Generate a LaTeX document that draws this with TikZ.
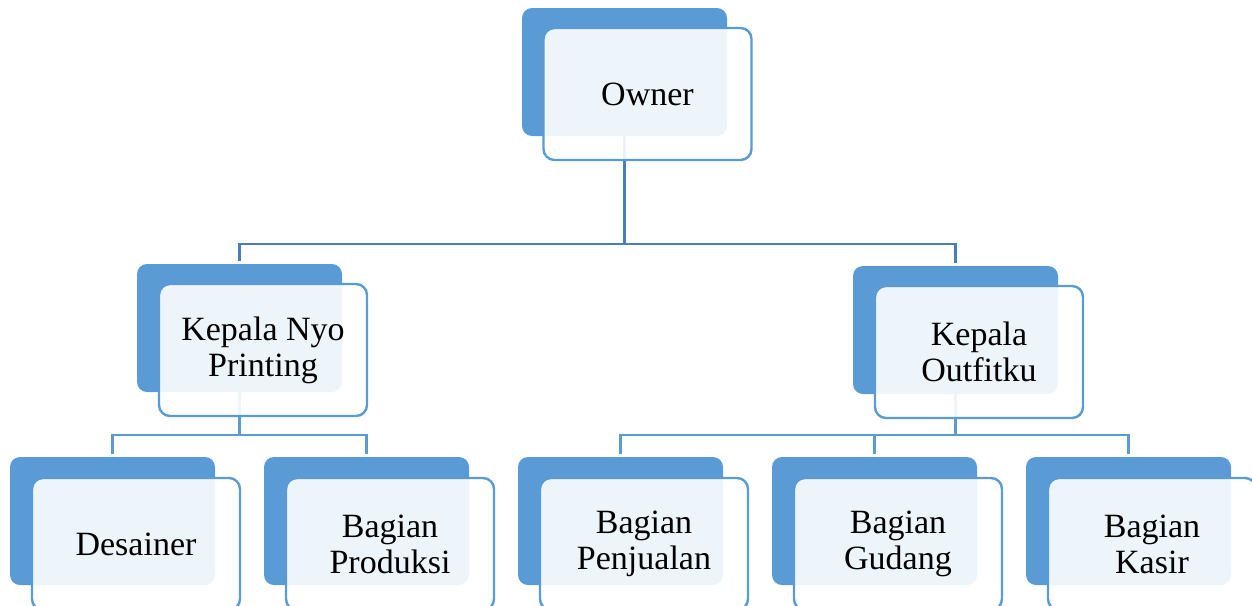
\documentclass[tikz,border=0pt]{standalone}
\usepackage{fontspec}
\setmainfont{Liberation Serif}

\definecolor{accent}{HTML}{5B9BD5}
\definecolor{accentdark}{HTML}{4A7EBB}

\begin{document}
\begin{tikzpicture}[x=1pt, y=-1pt]
    % Node styles
    \tikzstyle{back} = [rectangle, rounded corners=10pt, fill=accent, minimum width=205pt, minimum height=128pt]
    \tikzstyle{front} = [rectangle, rounded corners=11pt, draw=accent, line width=2.4pt, fill=white, fill opacity=0.9, text opacity=1, minimum width=208pt, minimum height=132pt, align=center, font=\fontsize{34}{36}\selectfont]
    \tikzstyle{link} = [draw=accent, line width=2.2pt, shorten >=3pt]
    \tikzstyle{toplink} = [draw=accentdark, line width=2.2pt, shorten >=3pt]

    \useasboundingbox (0,0) rectangle (1252,605);

    % Back boxes
    \node (owner_bg) at (624.5, 72) [back] {};
    \node (nyo_bg) at (239.5, 328) [back] {};
    \node (outfit_bg) at (955.5, 330) [back] {};
    \node (desainer_bg) at (112.5, 521) [back] {};
    \node (produksi_bg) at (366.5, 521) [back] {};
    \node (penjualan_bg) at (620.5, 521) [back] {};
    \node (gudang_bg) at (874.5, 521) [back] {};
    \node (kasir_bg) at (1128.5, 521) [back] {};

    % Connectors
    \coordinate (bus_top) at (624.5, 244);
    \coordinate (bus_nyo) at (239.5, 435);
    \coordinate (bus_outfit) at (955.5, 435);
    \draw[toplink] (owner_bg.south) -- (bus_top) -| (nyo_bg.north);
    \draw[toplink] (bus_top) -| (outfit_bg.north);
    \draw[link] (nyo_bg.south) -- (bus_nyo) -| (desainer_bg.north);
    \draw[link] (bus_nyo) -| (produksi_bg.north);
    \draw[link] (outfit_bg.south) -- (bus_outfit) -| (penjualan_bg.north);
    \draw[link] (bus_outfit) -| (gudang_bg.north);
    \draw[link] (bus_outfit) -| (kasir_bg.north);

    % Front boxes
    \node (owner) at (647.5, 94) [front] {Owner};
    \node (nyo) at (263, 350) [front] {Kepala Nyo\\Printing};
    \node (outfit) at (979, 352) [front] {Kepala\\Outfitku};
    \node (desainer) at (136, 544) [front] {Desainer};
    \node (produksi) at (390, 544) [front] {Bagian\\Produksi};
    \node (penjualan) at (644, 544) [front] {Bagian\\Penjualan};
    \node (gudang) at (898, 544) [front] {Bagian\\Gudang};
    \node (kasir) at (1152, 544) [front] {Bagian\\Kasir};

\end{tikzpicture}
\end{document}
